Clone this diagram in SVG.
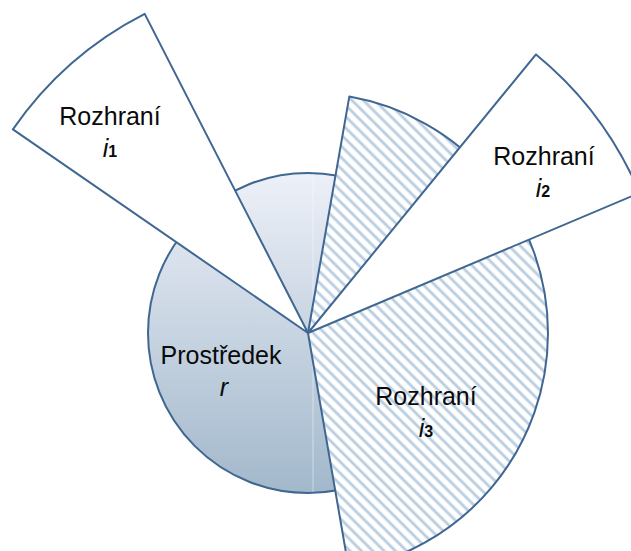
<svg xmlns="http://www.w3.org/2000/svg" width="631" height="551" viewBox="0 0 631 551">
  <style>
    .edge { stroke: #3f6791; stroke-width: 2; stroke-linejoin: round; }
    .lbl { font-family: "Liberation Sans", Arial, sans-serif; font-size: 25px; fill: #0a0a0a; text-anchor: middle; }
    .it { font-style: italic; }
    .sub { font-size: 16px; font-weight: bold; }
  </style>
  <defs>
    <linearGradient id="baseGrad" x1="0" y1="0" x2="0" y2="1">
      <stop offset="0" stop-color="#edf0f8"/>
      <stop offset="1" stop-color="#a2b8cb"/>
    </linearGradient>
    <pattern id="hatch" patternUnits="userSpaceOnUse" width="8" height="8" patternTransform="rotate(-45)">
      <rect width="8" height="8" fill="#ffffff"/>
      <line x1="2" y1="0" x2="2" y2="8" stroke="#b9cde0" stroke-width="2.8"/>
    </pattern>
  </defs>
  <rect width="631" height="551" fill="#ffffff"/>

  <g id="prostredek">
    <circle cx="308" cy="333" r="160" fill="url(#baseGrad)" class="edge"/>
    <line x1="313" y1="174" x2="313" y2="492" stroke="#ffffff" stroke-opacity="0.45" stroke-width="1"/>
  </g>

  <g id="hatched">
    <path d="M308,333 L349.3,96.6 A240,240 0 0 1 348.9,569.5 Z" fill="url(#hatch)" class="edge"/>
  </g>

  <g id="rozhrani-i2">
    <path d="M308,333 L536.0,54.4 A360,360 0 0 1 639.6,192.9 Z" fill="#ffffff" class="edge"/>
  </g>

  <g id="rozhrani-i1">
    <path d="M308,333 L144.7,13.9 A358.5,358.5 0 0 0 12.9,129.4 Z" fill="#ffffff" class="edge"/>
  </g>

  <g id="labels">
    <text class="lbl" x="110" y="125">Rozhraní</text>
    <text class="lbl" x="110" y="157"><tspan class="it">i</tspan><tspan class="sub">1</tspan></text>
    <text class="lbl" x="544" y="165">Rozhraní</text>
    <text class="lbl" x="543" y="197"><tspan class="it">i</tspan><tspan class="sub">2</tspan></text>
    <text class="lbl" x="426" y="405">Rozhraní</text>
    <text class="lbl" x="426" y="437"><tspan class="it">i</tspan><tspan class="sub">3</tspan></text>
    <text class="lbl" x="221" y="364">Prostředek</text>
    <text class="lbl it" x="224" y="396">r</text>
  </g>

  <g id="connectors"/>
</svg>
